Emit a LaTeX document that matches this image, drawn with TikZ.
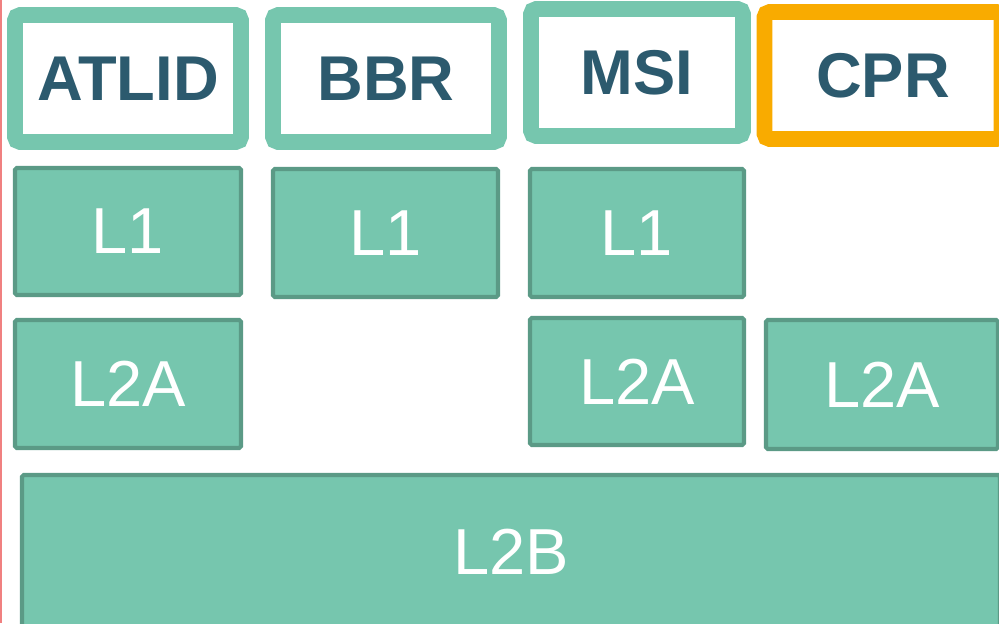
\documentclass[tikz,border=0pt]{standalone}
\usepackage{fontspec}
\setmainfont{Liberation Sans}
\usetikzlibrary{positioning}
\definecolor{tealfill}{RGB}{118,198,174}
\definecolor{tealdark}{RGB}{91,154,134}
\definecolor{labelblue}{RGB}{44,90,110}
\definecolor{cprorange}{RGB}{249,171,0}
\definecolor{edgered}{RGB}{240,128,128}

\begin{document}
\begin{tikzpicture}[
  inst/.style={draw=tealfill,fill=white,line width=9pt,rounded corners=3pt,
    inner sep=0pt,minimum height=2.54cm,text=labelblue,
    font=\fontsize{36}{42}\selectfont\bfseries},
  level/.style={draw=tealdark,fill=tealfill,line width=2.3pt,rounded corners=1pt,
    inner sep=0pt,text=white,font=\fontsize{37}{44}\selectfont},
]
\useasboundingbox (0,0) rectangle (19.98,-12.46);
\clip (0,0) rectangle (19.98,-12.46);

% instruments
\node[inst,minimum width=4.52cm] (atlid) at (2.56,-1.57) {ATLID};
\node[inst,minimum width=4.52cm] (bbr) at (7.72,-1.57) {BBR};
\node[inst,minimum width=4.24cm] (msi) at (12.74,-1.45) {MSI};
\node[inst,draw=cprorange,minimum width=4.74cm] (cpr) at (17.66,-1.51) {CPR};

% level 1
\node[level,minimum width=4.52cm,minimum height=2.54cm] (atlidL1) at (2.56,-4.63) {L1};
\node[level,minimum width=4.50cm,minimum height=2.56cm] (bbrL1) at (7.71,-4.66) {L1};
\node[level,minimum width=4.28cm,minimum height=2.56cm] (msiL1) at (12.74,-4.66) {L1};

% level 2a
\node[level,minimum width=4.52cm,minimum height=2.56cm] (atlidL2A) at (2.56,-7.68) {L2A};
\node[level,minimum width=4.28cm,minimum height=2.54cm] (msiL2A) at (12.74,-7.63) {L2A};
\node[level,minimum width=4.64cm,minimum height=2.58cm] (cprL2A) at (17.64,-7.69) {L2A};

% level 2b
\node[level,minimum width=19.56cm,minimum height=3.06cm] (synL2B) at (10.22,-11.03) {L2B};

% left edge
\draw[edgered,line width=0.9pt] (0.015,0) -- (0.015,-12.46);
\end{tikzpicture}
\end{document}
